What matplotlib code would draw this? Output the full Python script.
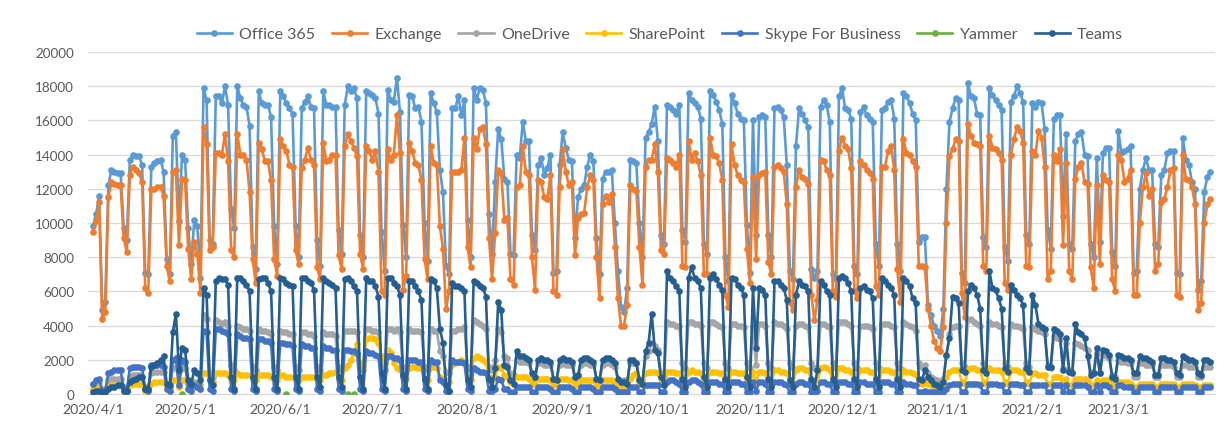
import numpy as np
import pandas as pd
import matplotlib
matplotlib.use("Agg")
import matplotlib.pyplot as plt
import matplotlib.dates as mdates
from matplotlib.ticker import FuncFormatter, FixedLocator
from matplotlib.lines import Line2D

plt.rcParams['font.family'] = ['Lato', 'DejaVu Sans']

# ---------------- data (daily, 2020/4/1 .. 2021/3/31, values in hundreds) ----------------
start_date = "2020-04-01"
end_date = "2021-03-31"

office365 = [
    98,105,116,49,54,
    122,131,130,129,129,97,90,   137,140,139,139,134,71,70,   133,135,136,137,130,79,70,
    151,153,101,140,137,97,76,   102,98,68,179,172,90,88,     174,174,170,180,169,108,97,
    180,173,169,168,157,86,73,   177,170,169,169,162,98,76,   177,174,170,167,164,98,80,
    167,171,174,168,167,90,75,   177,169,169,168,168,96,82,   169,180,177,179,173,93,80,
    177,176,175,173,164,95,72,   178,172,171,185,165,99,80,   175,174,167,168,159,100,78,
    176,170,165,131,118,75,70,   167,167,174,163,172,102,80,  179,172,179,178,170,105,82,
    124,155,149,126,124,82,81,   140,138,159,148,148,93,84,   134,138,128,132,140,71,72,
    134,153,144,137,136,91,115,  120,122,133,140,136,91,70,   126,130,130,131,100,72,51,
    48,62,137,136,135,100,80,    150,153,158,168,148,93,88,   169,168,166,164,169,96,89,
    176,172,170,168,161,88,82,   177,175,171,166,158,80,66,   175,170,164,161,160,99,71,
    160,93,162,163,162,93,80,    167,168,166,162,134,72,67,   145,167,164,160,156,73,68,
    72,168,172,169,159,70,67,    174,179,167,166,161,75,70,   165,168,163,161,159,88,75,
    166,167,171,172,161,88,72,   176,174,170,164,160,89,92,   92,52,46,40,37,34,50,
    120,159,167,173,172,71,65,   182,174,173,164,163,92,86,   179,175,172,169,166,86,78,
    171,174,180,176,171,93,88,   170,168,171,170,155,96,85,   161,163,163,104,152,88,85,
    148,152,153,140,139,88,80,   138,89,141,144,144,83,75,    154,141,142,143,145,71,72,
    120,131,138,131,131,88,86,   128,131,141,142,142,71,70,   150,137,134,124,120,61,66,
    118,127,130,
]

exchange = [
    95,101,112,44,48,
    115,124,123,122,122,91,83,   128,133,131,129,124,62,59,   120,120,121,121,116,75,66,
    130,131,87,126,125,85,67,    89,82,59,156,146,84,86,      141,141,140,152,136,84,80,
    152,140,140,137,118,79,65,   147,143,136,136,125,79,69,   149,145,142,134,133,84,76,
    132,137,144,137,134,74,67,   147,136,137,140,140,81,73,   145,152,148,144,139,82,73,
    145,142,137,142,130,60,58,   143,137,140,163,141,61,69,   147,142,135,134,125,79,67,
    145,135,134,98,85,50,60,     130,130,130,131,150,86,74,   150,143,155,156,146,91,67,
    94,131,129,102,103,67,64,    121,122,145,130,128,80,61,   125,124,115,114,128,60,58,
    121,143,130,122,124,81,103,  105,106,121,128,125,80,56,   111,116,112,117,86,56,40,
    40,52,122,120,119,86,64,     133,137,137,146,130,84,82,   138,137,135,133,140,75,74,
    148,137,141,136,128,70,70,   150,140,139,135,125,58,51,   146,134,128,125,124,85,65,
    127,79,128,129,130,77,70,    133,134,132,130,111,54,49,   121,131,127,126,123,58,43,
    55,137,136,131,128,60,57,    142,150,145,143,132,60,56,   136,134,131,129,126,63,58,
    133,133,142,145,131,73,54,   149,141,140,136,133,75,75,   74,50,40,31,27,25,39,
    100,139,143,149,148,59,45,   158,151,147,146,145,75,72,   151,144,143,141,137,65,61,
    140,149,156,154,147,75,74,   142,140,154,150,133,67,72,   140,136,143,87,135,72,67,
    126,133,135,124,123,74,62,   122,76,128,125,124,67,60,    140,137,124,126,131,58,58,
    100,121,129,116,120,72,76,   112,114,121,131,132,58,57,   140,126,125,121,111,49,53,
    100,111,114,
]

onedrive = [
    6,7,7,3,3,
    8,9,9,9,9,4,3,        10,11,11,11,10,4,4,   12,13,13,13,13,5,4,
    15,16,7,15,15,6,5,    7,6,5,46,44,12,10,    43,42,41,42,40,17,14,
    40,39,38,38,37,16,14, 38,37,37,36,35,16,14, 37,36,36,35,35,16,14,
    36,36,35,35,34,16,14, 36,35,35,35,34,16,14, 37,37,37,37,36,16,14,
    38,38,37,37,36,16,14, 38,38,37,38,36,16,14, 38,37,37,37,36,16,14,
    38,37,37,25,22,13,12, 37,37,38,38,39,16,14, 43,42,41,40,38,16,14,
    20,38,36,22,21,12,11, 20,19,19,19,18,10,9,  18,18,17,17,17,9,8,
    17,18,17,17,17,9,10,  17,18,18,17,17,9,8,   17,18,18,17,16,8,7,
    8,8,18,18,18,9,8,     22,25,30,28,26,12,10, 42,41,41,40,40,18,15,
    42,42,41,41,40,18,15, 42,42,41,40,39,18,15, 41,41,40,40,39,18,15,
    40,17,41,41,40,18,15, 42,41,41,40,38,18,15, 40,41,41,40,39,18,15,
    16,41,41,40,39,18,15, 42,42,42,41,40,18,15, 40,40,40,39,38,18,15,
    41,41,41,40,39,18,15, 42,41,40,39,37,18,16, 17,12,10,9,8,7,9,
    22,35,39,40,40,18,16, 43,44,42,41,40,18,16, 42,41,41,40,39,18,16,
    41,40,40,39,38,18,16, 39,38,37,36,35,17,15, 34,33,32,15,30,14,13,
    30,29,28,27,26,13,12, 24,12,23,22,21,11,10, 20,19,19,18,18,10,10,
    18,18,17,17,17,10,10, 17,17,17,17,16,10,10, 17,17,16,16,16,10,10,
    16,16,16,
]

sharepoint = [
    3,3,4,2,2,
    4,5,5,5,5,2,2,        5,6,6,6,6,2,2,        6,7,7,7,7,3,2,
    8,8,4,8,8,3,3,        4,4,3,12,12,8,7,      12,12,12,12,11,9,8,
    12,11,11,11,11,9,8,   11,11,11,11,10,9,8,   11,11,10,10,10,9,8,
    10,10,10,10,10,9,8,   11,11,12,12,13,9,8,   15,17,20,24,29,18,16,
    32,33,33,32,30,22,18, 26,24,18,15,14,10,9,  15,16,16,15,15,9,8,
    16,16,15,10,9,8,7,    17,18,19,20,19,10,8,  21,22,21,20,19,10,8,
    10,16,15,11,10,7,6,   10,10,10,10,9,6,5,    9,9,9,9,8,5,5,
    9,9,9,8,8,5,5,        8,8,8,8,8,5,4,        8,8,8,8,7,4,4,
    4,4,9,11,12,6,5,      12,13,13,13,12,6,5,   13,13,13,12,12,6,5,
    13,14,13,13,12,6,5,   13,13,13,12,12,6,5,   13,13,12,12,12,6,5,
    13,7,13,13,12,6,5,    14,14,13,13,12,6,5,   14,15,15,14,14,7,6,
    7,15,16,15,14,7,6,    15,15,14,14,13,7,6,   14,14,14,13,13,7,6,
    14,14,14,13,13,7,6,   14,13,13,12,11,7,6,   8,6,5,4,4,4,5,
    10,13,14,14,14,7,6,   14,15,15,14,14,7,6,   15,14,14,14,13,7,6,
    14,14,14,13,13,7,6,   12,12,11,11,11,6,6,   10,10,10,5,9,5,5,
    9,9,9,9,8,5,5,        8,5,8,8,8,5,4,        7,7,7,7,6,4,4,
    6,6,6,6,6,4,4,        6,6,6,6,6,4,4,        6,6,6,6,5,4,4,
    5,5,5,
]

skype = [
    6,8,9,2,2,
    12,13,14,14,14,3,2,   15,16,16,16,15,3,2,   17,17,17,17,16,3,2,
    20,21,5,20,19,3,2,    5,4,3,37,36,3,2,      38,38,37,36,35,3,2,
    35,34,33,33,32,3,2,   32,32,31,31,30,3,2,   30,30,29,29,28,3,2,
    29,28,28,27,27,3,2,   28,27,27,26,26,3,2,   26,26,25,25,24,3,2,
    25,24,24,23,22,3,2,   22,22,21,21,20,3,2,   20,20,20,19,19,3,2,
    20,19,19,8,7,2,2,     20,19,19,19,18,3,2,   15,14,13,13,12,2,2,
    3,9,8,3,3,1,1,        4,4,4,4,4,1,1,        4,4,4,4,3,1,1,
    4,4,4,4,3,1,1,        4,4,4,4,3,1,1,        4,4,4,4,3,1,1,
    1,1,4,4,4,1,1,        5,5,5,5,5,1,1,        7,8,8,7,6,1,1,
    7,8,8,7,6,1,1,        7,7,7,6,6,1,1,        7,7,7,6,6,1,1,
    7,2,7,7,6,1,1,        7,7,7,6,5,1,1,        6,7,7,6,6,1,1,
    2,7,7,6,6,1,1,        7,7,7,6,6,1,1,        7,7,6,6,6,1,1,
    7,7,7,6,6,1,1,        7,6,6,5,5,1,1,        2,1,1,1,1,1,1,
    3,5,6,6,6,1,1,        6,6,6,6,5,1,1,        6,6,6,5,5,1,1,
    6,6,6,5,5,1,1,        5,5,5,5,5,1,1,        5,5,5,1,5,1,1,
    5,5,5,5,4,1,1,        5,1,5,5,4,1,1,        5,5,4,4,4,1,1,
    4,4,4,4,4,1,1,        4,4,4,4,4,1,1,        4,4,4,4,4,1,1,
    4,4,4,
]

teams = [
    1,2,2,1,1,
    3,4,4,5,5,2,2,        7,8,9,10,10,3,3,      16,17,18,20,22,6,5,
    36,47,14,27,26,8,6,   14,12,8,62,58,8,5,    66,68,67,67,64,10,3,
    68,68,66,64,60,10,3,  67,68,68,65,60,10,3,  68,67,65,64,63,10,3,
    68,68,66,65,61,10,4,  68,66,65,64,62,10,4,  67,68,66,63,60,10,3,
    68,66,66,63,57,12,3,  68,68,65,63,58,11,3,  66,66,63,60,55,9,3,
    67,66,62,38,30,5,2,   65,63,63,62,60,8,4,   66,65,63,62,57,9,4,
    15,54,49,17,16,8,6,   25,22,22,21,20,12,10, 20,21,20,20,19,9,8,
    20,21,20,20,19,10,11, 20,21,21,20,19,9,8,   20,21,21,20,18,9,7,
    7,6,20,20,18,8,6,     25,30,47,26,24,10,5,  72,68,66,63,60,9,4,
    68,74,68,66,62,10,4,  68,70,67,64,61,9,4,   68,67,64,62,58,10,4,
    62,27,62,61,58,9,4,   66,66,64,62,55,8,4,   58,66,64,63,60,9,4,
    14,66,64,60,58,9,4,   68,69,68,65,60,9,4,   62,63,61,60,56,9,4,
    68,66,64,62,58,9,4,   68,66,63,56,53,9,8,   14,10,8,6,5,4,7,
    23,33,57,56,53,14,13, 60,64,62,58,50,14,12, 72,62,61,56,50,15,13,
    64,61,58,56,52,15,13, 58,52,41,39,38,16,16, 38,37,35,14,33,13,12,
    41,36,35,33,22,11,12, 27,12,26,25,23,10,9,  23,22,21,21,20,12,12,
    22,21,21,20,19,11,11, 21,21,20,20,19,12,11, 22,21,20,20,19,12,11,
    20,20,19,
]

# Yammer only has a few isolated (near zero) readings
yammer_dates = ["2020-04-30", "2020-06-03", "2020-06-23", "2020-06-25"]
yammer = [0, 0, 0, 0]

series_names = ["Office 365", "Exchange", "OneDrive", "SharePoint",
                "Skype For Business", "Yammer", "Teams"]
colors = ["#5B9BD5", "#ED7D31", "#A5A5A5", "#FFC000", "#4472C4", "#70AD47", "#255E91"]

tick_dates = ["2020-04-01", "2020-05-01", "2020-06-01", "2020-07-01", "2020-08-01",
              "2020-09-01", "2020-10-01", "2020-11-01", "2020-12-01", "2021-01-01",
              "2021-02-01", "2021-03-01"]
y_ticks = [0, 2000, 4000, 6000, 8000, 10000, 12000, 14000, 16000, 18000, 20000]

# ---------------- plotting ----------------
dates = pd.date_range(start_date, end_date, freq="D")
daily = [office365, exchange, onedrive, sharepoint, skype, None, teams]

W, H = 1227, 435
fig = plt.figure(figsize=(W / 100, H / 100), dpi=100)
ax = fig.add_axes([88 / W, 40 / H, (1215 - 88) / W, (395 - 53) / H])

LW, MS = 1.9, 4.8
for i, (name, col) in enumerate(zip(series_names, colors)):
    if name == "Yammer":
        yd = pd.to_datetime(yammer_dates)
        ax.plot(yd, np.array(yammer, dtype=float), linestyle="none", marker="o",
                markersize=MS, markeredgewidth=0, color=col, zorder=3 + i)
    else:
        vals = np.array(daily[i], dtype=float) * 100
        ax.plot(dates, vals, color=col, lw=LW, marker="o", markersize=MS,
                markeredgewidth=0, zorder=3 + i, solid_joinstyle="round")

d0 = mdates.date2num(pd.Timestamp(start_date))
ax.set_xlim(d0 - 1.63, d0 + 365.5)
ax.set_ylim(0, 20000)
ax.set_yticks(y_ticks)
ax.yaxis.grid(True, color="#D9D9D9", lw=0.9)
ax.set_axisbelow(True)

tick_nums = [mdates.date2num(pd.Timestamp(t)) for t in tick_dates]
ax.xaxis.set_major_locator(FixedLocator(tick_nums))
ax.xaxis.set_major_formatter(FuncFormatter(
    lambda v, p: "{0}/{1}/{2}".format(mdates.num2date(v).year, mdates.num2date(v).month,
                                      mdates.num2date(v).day)))

for s in ["top", "right", "left"]:
    ax.spines[s].set_visible(False)
ax.spines["bottom"].set_color("#D9D9D9")
ax.spines["bottom"].set_linewidth(0.9)
ax.tick_params(axis="both", length=0, colors="#595959")
ax.tick_params(axis="x", pad=6, labelsize=10.2)
ax.tick_params(axis="y", pad=10, labelsize=9.7)

handles = [Line2D([0], [0], color=c, lw=LW, marker="o", markersize=MS, markeredgewidth=0)
           for c in colors]
fig.legend(handles, series_names, loc="center", bbox_to_anchor=(660 / W, 1 - 35 / H),
           ncol=7, frameon=False, fontsize=11.5, labelcolor="#595959",
           handlelength=2.2, columnspacing=1.05, handletextpad=0.45)

fig.savefig("out.png", dpi=100, facecolor="white")
